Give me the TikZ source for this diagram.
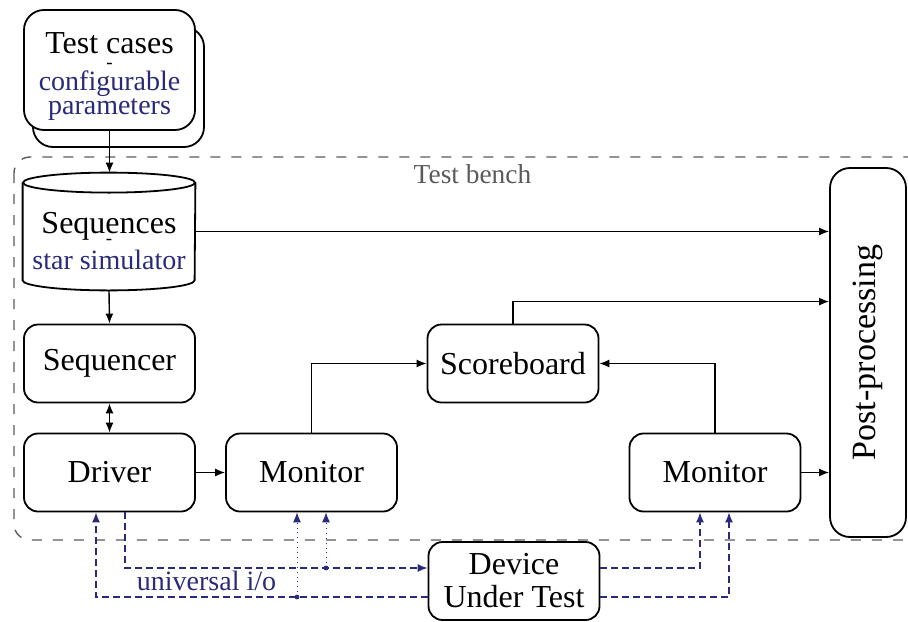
\documentclass[tikz,border=0pt]{standalone}
\usepackage{fontspec}
\setmainfont{Liberation Serif}
\usetikzlibrary{arrows.meta}
\usetikzlibrary{positioning}
\usetikzlibrary{shadows}

\definecolor{ioblue}{RGB}{42,42,122}
\definecolor{benchgray}{RGB}{90,90,90}
\newcommand{\blu}[1]{{\fontsize{14}{19}\selectfont\color{ioblue}#1}}
\newcommand{\sep}{{\fontsize{9.5}{19}\selectfont -}}

\begin{document}
\begin{tikzpicture}[x=0.5pt,y=-0.5pt]
  \tikzset{
    >={Latex[length=5pt,width=4pt]},
    node distance=101pt,
    block/.style={draw, line width=0.9pt, rounded corners=7pt, fill=white,
      minimum width=85.5pt, minimum height=39pt, inner sep=0pt,
      font=\fontsize{16}{19}\selectfont, align=center},
    txt/.style={align=center, inner sep=0pt, font=\fontsize{16}{19}\selectfont},
    flow/.style={->, line width=0.7pt},
    sig/.style={->, ioblue, line width=0.7pt, dash pattern=on 3.5pt off 2pt},
    tap/.style={->, ioblue, line width=0.45pt, dotted},
  }
  \useasboundingbox (0,0) rectangle (908,621);

  % test bench frame
  \draw[benchgray, line width=0.7pt, dash pattern=on 5pt off 5.5pt, rounded corners=8pt]
    (14,157) rectangle (960,540);
  \node[benchgray, font=\fontsize{13.7}{16}\selectfont] (bench) at (472.5,174) {Test bench};

  % inputs
  \node[block, minimum height=60pt, rounded corners=10pt,
    copy shadow={shadow xshift=4.5pt, shadow yshift=-8.5pt, draw, fill=white}] (tc) at (109.5,70) {};
  \node[txt] (tctext) at (109.5,76.4)
    {Test cases\\[-11.3pt]\sep\\[-8.1pt]\blu{configurable}\\[-6.8pt]\blu{parameters}};
  \node[minimum width=86pt, minimum height=58.5pt, inner sep=0pt] (seq) at (109,231.5) {};
  \draw[line width=0.9pt] ([yshift=-5pt]seq.north) ellipse [x radius=43pt, y radius=5pt];
  \draw[line width=0.9pt] ([yshift=-5pt]seq.north west) -- ([yshift=5pt]seq.south west)
    arc[start angle=180, end angle=360, x radius=43pt, y radius=5pt] -- ([yshift=-5pt]seq.north east);
  \node[txt] (seqtext) at (109,241)
    {Sequences\\[-13.6pt]\sep\\[-6.4pt]\blu{star simulator}};

  % bench blocks
  \node[block] (drv) at (109.5,472.5) {Driver};
  \node[block, above of=drv, node distance=54.5pt] (sqr) {Sequencer};
  \node[block, right of=drv] (mon1) {Monitor};
  \node[block, right of=sqr, node distance=201.75pt] (scb) {Scoreboard};
  \node[block, right of=mon1, node distance=201.75pt] (mon2) {Monitor};
  \node[block, rotate=90, minimum width=184.5pt, minimum height=38pt,
    rounded corners=10pt, font=\fontsize{17}{20}\selectfont] (pp) at (868,352.5) {Post-processing};
  \node[block] (dut) at (514,581) {Device\\[-2.5pt]Under Test};

  % data flow
  \draw[flow] (tc.south) -- (tc.south |- seq.north);
  \draw[flow] (seq.south) -- (sqr.north);
  \draw[flow] (seq.east) -- (seq.east -| pp.north);
  \draw[flow, <->] (sqr.south) -- (drv.north);
  \draw[flow] (drv.east) -- (mon1.west);
  \draw[flow] (mon1.north) |- (scb.west);
  \draw[flow] (mon2.north) |- (scb.east);
  \draw[flow] (scb.north) -- ++(0,-22) coordinate (sk) -- (sk -| pp.north);
  \draw[flow] (mon2.east) -- (mon2.east -| pp.north);

  % pins of the device
  \coordinate (tapl) at (297,597);
  \coordinate (tapr) at (326,568);
  \draw[sig] (dut.west |- tapl) -| ([xshift=-6.75pt]drv.south);
  \draw[sig] ([xshift=7.75pt]drv.south) |- (dut.west |- tapr);
  \draw[tap] (tapl) -- (tapl |- mon1.south);
  \draw[tap] (tapr) -- (tapr |- mon1.south);
  \fill[ioblue] (tapl) circle (1.2pt) (tapr) circle (1.2pt);
  \draw[sig] (dut.east |- tapr) -| ([xshift=-7.5pt]mon2.south);
  \draw[sig] (dut.east |- tapl) -| ([xshift=7pt]mon2.south);
  \node[ioblue, font=\fontsize{14}{17}\selectfont] (uio) at (206.5,581) {universal i/o};
\end{tikzpicture}
\end{document}
